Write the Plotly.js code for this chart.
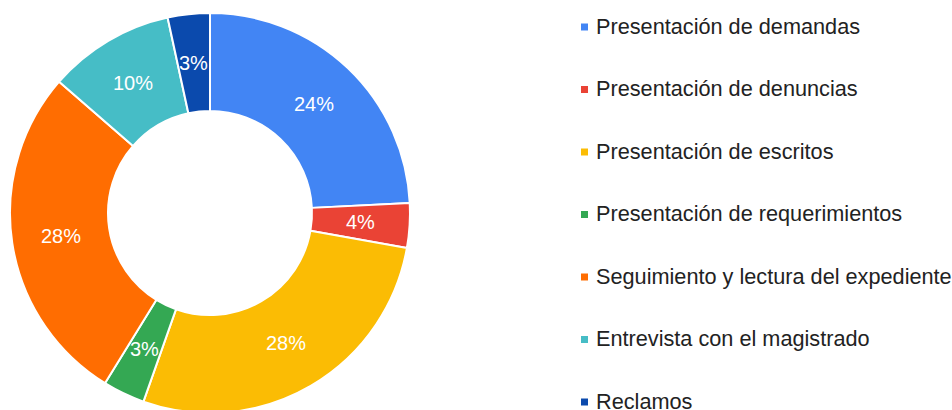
<!DOCTYPE html>
<html>
<head>
<meta charset="utf-8">
<script src="https://cdn.plot.ly/plotly-3.0.1.min.js"></script>
<style>
  html, body { margin: 0; padding: 0; background: #fff; overflow: hidden; }
  #chart { width: 952px; height: 420px; }
</style>
</head>
<body>
<div id="chart"></div>
<script>
// slices, in drawing order (clockwise from 12 o'clock)
const labels = [
  'Presentación de demandas',
  'Presentación de denuncias',
  'Presentación de escritos',
  'Presentación de requerimientos',
  'Seguimiento y lectura del expediente',
  'Entrevista con el magistrado',
  'Reclamos'
]
// shares (the chart rounds them to whole percents)
const values = [24.2, 3.6, 27.6, 3.4, 27.6, 10.2, 3.4]
const colors = ['#4285f4', '#ea4335', '#fbbc04', '#34a853', '#ff6d01', '#46bdc6', '#0b4aad']

const W = 952
const H = 420  // a bit taller than the window so the ring gets clipped at the bottom like the original

// pie geometry in pixels
const cx = 210, cy = 213, R = 200, hole = 0.51

const data = [{
  type: 'pie',
  labels: labels,
  values: values,
  sort: false,
  direction: 'clockwise',
  rotation: 0,
  hole: hole,
  marker: { colors: colors, line: { color: '#ffffff', width: 2 } },
  textinfo: 'none',
  domain: { x: [(cx - R) / W, (cx + R) / W], y: [(H - cy - R) / H, (H - cy + R) / H] },
  showlegend: false,
  hoverinfo: 'label+percent'
}]

const font = 'Liberation Sans, Arial, sans-serif'
const shapes = []
const annotations = []

// percent labels sit mid-ring at each slice's middle angle
const total = values.reduce((a, b) => a + b, 0)
const rMid = R * (1 + hole) / 2
let acc = 0
values.forEach(v => {
  const ang = (acc + v / 2) / total * 2 * Math.PI
  acc += v
  const px = cx + rMid * Math.sin(ang)
  const py = cy - rMid * Math.cos(ang)
  annotations.push({
    xref: 'paper', yref: 'paper', x: px / W, y: 1 - py / H,
    xanchor: 'center', yanchor: 'middle', showarrow: false,
    text: Math.round(v / total * 100) + '%',
    font: { family: font, size: 20, color: '#ffffff' }
  })
})

// hand-built legend on the right: square + label per row
const legendX = 581
const legendTop = 27
const legendStep = 62.5
labels.forEach((lab, i) => {
  const yc = legendTop + i * legendStep
  shapes.push({
    type: 'rect', xref: 'paper', yref: 'paper',
    x0: legendX / W, x1: (legendX + 7) / W,
    y0: 1 - (yc + 3.5) / H, y1: 1 - (yc - 3.5) / H,
    fillcolor: colors[i], line: { width: 0 }
  })
  annotations.push({
    xref: 'paper', yref: 'paper',
    x: (legendX + 13) / W, y: 1 - (yc - 1) / H,
    xanchor: 'left', yanchor: 'middle',
    text: lab, showarrow: false,
    font: { family: font, size: 21.7, color: '#222222' }
  })
})

const layout = {
  width: W,
  height: H,
  margin: { t: 0, r: 0, b: 0, l: 0 },
  paper_bgcolor: '#ffffff',
  showlegend: false,
  shapes: shapes,
  annotations: annotations
}

Plotly.newPlot('chart', data, layout, { displayModeBar: false, staticPlot: true })
</script>
</body>
</html>
